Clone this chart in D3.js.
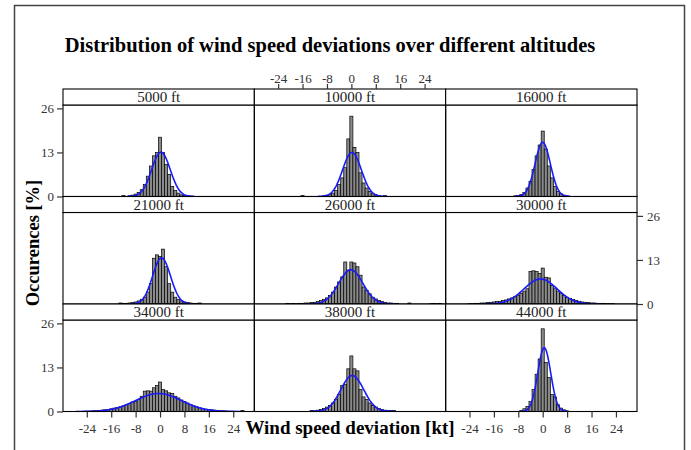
<!DOCTYPE html>
<html>
<head>
<meta charset="utf-8">
<script src="https://cdn.jsdelivr.net/npm/d3@7"></script>
<style>
  html, body { margin: 0; padding: 0; background: #fff; }
  svg { display: block; }
  text { font-family: "Liberation Serif", "Times New Roman", serif; }
</style>
</head>
<body>
<svg id="chart" width="691" height="450"></svg>
<script>
// ---------------- data ----------------
const chartTitle = "Distribution of wind speed deviations over different altitudes";
const xTitle = "Wind speed deviation [kt]";
const yTitle = "Occurences [%]";

// panel order: left-to-right, top-to-bottom
const altitudes = ["5000 ft", "10000 ft", "16000 ft",
                   "21000 ft", "26000 ft", "30000 ft",
                   "34000 ft", "38000 ft", "44000 ft"];

const xTicks = [-24, -16, -8, 0, 8, 16, 24];
const yTicks = [0, 13, 26];

// histogram bins: [bin centre (kt), occurrences (%)], bin width 1 kt
const hist5000 = [[-12,0.3],[-10,0.2],[-9,0.4],[-8,0.7],[-7,1.2],[-6,2.0],[-5,3.5],[-4,6.0],[-3,9.0],[-2,12.0],[-1,13.0],[0,17.5],[1,13.0],[2,9.5],[3,6.5],[4,3.0],[5,1.8],[6,1.0],[7,0.5],[8,0.3],[9,0.2],[10,0.1]];
const hist10000 = [[-16,0.3],[-9,0.2],[-8,0.4],[-7,0.6],[-6,1.0],[-5,1.8],[-4,3.5],[-3,5.5],[-2,8.5],[-1,17.0],[0,23.7],[1,14.5],[2,13.0],[3,7.0],[4,4.0],[5,2.5],[6,1.5],[7,0.8],[8,0.5],[9,0.3],[11,0.3]];
const hist16000 = [[-9,0.2],[-8,0.3],[-7,0.6],[-6,1.2],[-5,2.5],[-4,4.5],[-3,8.0],[-2,12.0],[-1,15.2],[0,19.3],[1,14.0],[2,9.0],[3,5.5],[4,3.0],[5,1.5],[6,0.8],[7,0.4],[8,0.2]];
const hist21000 = [[-13,0.3],[-12,0.2],[-11,0.2],[-10,0.3],[-9,0.4],[-8,0.6],[-7,0.9],[-6,1.3],[-5,2.0],[-4,3.5],[-3,6.0],[-2,13.5],[-1,14.5],[0,14.0],[1,16.2],[2,11.0],[3,6.0],[4,3.5],[5,2.0],[6,1.3],[7,0.9],[8,0.6],[9,0.4],[10,0.3],[11,0.2],[12,0.2],[13,0.3]];
const hist26000 = [[-21,0.2],[-20,0.1],[-19,0.2],[-18,0.1],[-17,0.2],[-16,0.2],[-15,0.3],[-14,0.3],[-13,0.4],[-12,0.5],[-11,0.7],[-10,1.0],[-9,1.3],[-8,1.8],[-7,2.5],[-6,3.5],[-5,5.0],[-4,6.5],[-3,8.0],[-2,12.4],[-1,10.0],[0,12.4],[1,12.1],[2,11.0],[3,8.5],[4,5.0],[5,4.0],[6,3.0],[7,2.0],[8,1.5],[9,1.0],[10,0.7],[11,0.5],[12,0.3],[13,0.3],[14,0.2],[15,0.2],[19,0.3],[26,0.1],[27,0.2],[28,0.1],[29,0.2]];
const hist30000 = [[-24,0.1],[-23,0.1],[-22,0.2],[-21,0.2],[-20,0.3],[-19,0.3],[-18,0.4],[-17,0.5],[-16,0.6],[-15,0.7],[-14,0.8],[-13,1.0],[-12,1.2],[-11,1.5],[-10,1.8],[-9,2.2],[-8,2.6],[-7,3.2],[-6,3.8],[-5,4.5],[-4,9.6],[-3,9.8],[-2,9.6],[-1,9.0],[0,10.6],[1,7.9],[2,7.7],[3,5.5],[4,4.5],[5,3.8],[6,3.2],[7,2.5],[8,2.0],[9,1.6],[10,1.3],[11,1.0],[12,0.8],[13,0.6],[14,0.5],[15,0.4],[16,0.3],[17,0.3],[18,0.2],[19,0.2],[20,0.2],[21,0.1],[22,0.1],[23,0.1]];
const hist34000 = [[-24,0.1],[-23,0.1],[-22,0.2],[-21,0.2],[-20,0.3],[-19,0.4],[-18,0.5],[-17,0.6],[-16,0.8],[-15,1.0],[-14,1.2],[-13,1.4],[-12,1.7],[-11,2.0],[-10,2.4],[-9,2.8],[-8,3.0],[-7,3.5],[-6,4.5],[-5,6.0],[-4,6.1],[-3,6.0],[-2,7.0],[-1,7.7],[0,8.7],[1,6.5],[2,6.1],[3,5.5],[4,5.3],[5,4.5],[6,4.0],[7,3.4],[8,3.0],[9,2.5],[10,2.1],[11,1.7],[12,1.4],[13,1.1],[14,0.9],[15,0.7],[16,0.6],[17,0.5],[18,0.4],[19,0.3],[20,0.2],[21,0.2],[22,0.1],[27,0.3]];
const hist38000 = [[-13,0.3],[-12,0.2],[-11,0.4],[-10,0.6],[-9,0.9],[-8,1.3],[-7,1.8],[-6,2.5],[-5,3.5],[-4,5.0],[-3,7.7],[-2,8.0],[-1,12.6],[0,16.4],[1,12.6],[2,12.0],[3,6.5],[4,4.3],[5,3.5],[6,2.5],[7,1.8],[8,1.3],[9,0.9],[10,0.6],[11,0.4],[12,0.3],[13,0.3],[14,0.3]];
const hist44000 = [[-7,0.3],[-6,0.8],[-5,1.5],[-4,3.0],[-3,6.5],[-2,11.0],[-1,15.5],[0,24.4],[1,14.5],[2,10.0],[3,5.0],[4,4.3],[5,2.0],[6,1.0],[7,0.5],[8,0.2]];

const histograms = [hist5000, hist10000, hist16000, hist21000, hist26000, hist30000, hist34000, hist38000, hist44000];

// fitted normal curve per panel (mean, sd in kt)
const fitMean = [0.3, 0.2, 0.0, 0.5, -0.2, -0.7, -0.5, 0.3, 0.5];
const fitSD   = [3.05, 3.07, 2.5, 2.93, 3.95, 5.4, 7.5, 3.76, 2.12];

// ---------------- layout ----------------
const svg = d3.select("#chart");
const gridLeft = 63, gridRight = 637, gridTop = 89, gridBottom = 411.5;
const nCols = 3, nRows = 3;
const panelW = (gridRight - gridLeft) / nCols;
const panelH = (gridBottom - gridTop) / nRows;
const stripH = 16;
const plotH = panelH - stripH;

const xDomain = [-31.8, 30.9];
const yDomain = [0, 27];

// outer frame
svg.append("rect")
  .attr("x", 14.5).attr("y", 5.5).attr("width", 670).attr("height", 470)
  .attr("fill", "none").attr("stroke", "#444").attr("stroke-width", 1.5);

// title
svg.append("text")
  .attr("x", 330).attr("y", 52)
  .attr("text-anchor", "middle")
  .attr("font-size", 20.5).attr("font-weight", "bold")
  .text(chartTitle);

const defs = svg.append("defs");
const curveLine = d3.line().x(d => d[0]).y(d => d[1]);
const tickFmt = d => String(d);

histograms.forEach((hist, i) => {
  const col = i % nCols, row = Math.floor(i / nCols);
  const x0 = gridLeft + col * panelW;
  const y0 = gridTop + row * panelH;
  const plotTop = y0 + stripH;
  const plotBottom = y0 + panelH;

  const x = d3.scaleLinear().domain(xDomain).range([x0, x0 + panelW]);
  const y = d3.scaleLinear().domain(yDomain).range([plotBottom, plotTop]);

  const g = svg.append("g");
  const clipId = "clip" + i;
  defs.append("clipPath").attr("id", clipId)
    .append("rect").attr("x", x0).attr("y", plotTop).attr("width", panelW).attr("height", plotH);

  const inner = g.append("g").attr("clip-path", `url(#${clipId})`);

  // bars
  inner.selectAll("rect.bar").data(hist).enter().append("rect")
    .attr("class", "bar")
    .attr("x", d => x(d[0] - 0.5))
    .attr("width", d => x(d[0] + 0.5) - x(d[0] - 0.5))
    .attr("y", d => y(d[1]))
    .attr("height", d => y(0) - y(d[1]))
    .attr("fill", "#8a8a8a")
    .attr("stroke", "#000")
    .attr("stroke-width", 0.7);

  // normal curve (percent per 1-kt bin)
  const mu = fitMean[i], sd = fitSD[i];
  const pts = [];
  const lo = mu - 3.6 * sd, hi = mu + 3.6 * sd;
  const n = 120;
  for (let k = 0; k <= n; k++) {
    const xv = lo + (hi - lo) * k / n;
    const dens = 100 * Math.exp(-0.5 * ((xv - mu) / sd) ** 2) / (sd * Math.sqrt(2 * Math.PI));
    pts.push([x(xv), y(dens)]);
  }
  inner.append("path")
    .attr("d", curveLine(pts))
    .attr("fill", "none")
    .attr("stroke", "#1a1aff")
    .attr("stroke-width", 1.6);

  // panel border
  g.append("rect")
    .attr("x", x0).attr("y", plotTop).attr("width", panelW).attr("height", plotH)
    .attr("fill", "none").attr("stroke", "#000").attr("stroke-width", 1.1);

  // strip
  g.append("rect")
    .attr("x", x0).attr("y", y0).attr("width", panelW).attr("height", stripH)
    .attr("fill", "#fff").attr("stroke", "#000").attr("stroke-width", 1.1);
  g.append("text")
    .attr("x", x0 + panelW / 2).attr("y", y0 + stripH - 3)
    .attr("text-anchor", "middle")
    .attr("font-size", 15).attr("fill", "#222")
    .text(altitudes[i]);

  // axes (alternating, lattice style)
  const styleAxis = sel => {
    sel.select(".domain").remove();
    sel.selectAll(".tick line").attr("stroke", "#333").attr("stroke-width", 1.2);
    sel.selectAll(".tick text").attr("fill", "#333").attr("font-size", 13)
      .attr("font-family", "Liberation Serif, serif");
  };
  if (row === 0 && col === 1) {
    svg.append("g").attr("transform", `translate(0,${y0})`)
      .call(d3.axisTop(x).tickValues(xTicks).tickFormat(tickFmt).tickSize(5).tickPadding(1))
      .call(styleAxis);
  }
  if (row === nRows - 1 && col !== 1) {
    svg.append("g").attr("transform", `translate(0,${plotBottom})`)
      .call(d3.axisBottom(x).tickValues(xTicks).tickFormat(tickFmt).tickSize(6).tickPadding(6))
      .call(styleAxis);
  }
  if (col === 0 && row !== 1) {
    svg.append("g").attr("transform", `translate(${x0},0)`)
      .call(d3.axisLeft(y).tickValues(yTicks).tickFormat(tickFmt).tickSize(6).tickPadding(3))
      .call(styleAxis);
  }
  if (col === nCols - 1 && row === 1) {
    svg.append("g").attr("transform", `translate(${x0 + panelW},0)`)
      .call(d3.axisRight(y).tickValues(yTicks).tickFormat(tickFmt).tickSize(6).tickPadding(4))
      .call(styleAxis);
  }
});

// axis titles
svg.append("text")
  .attr("x", gridLeft + 1.5 * panelW).attr("y", 434)
  .attr("text-anchor", "middle")
  .attr("font-size", 19).attr("font-weight", "bold")
  .text(xTitle);

svg.append("text")
  .attr("transform", `translate(39,243) rotate(-90)`)
  .attr("text-anchor", "middle")
  .attr("font-size", 18.5).attr("font-weight", "bold")
  .text(yTitle);
</script>
</body>
</html>
